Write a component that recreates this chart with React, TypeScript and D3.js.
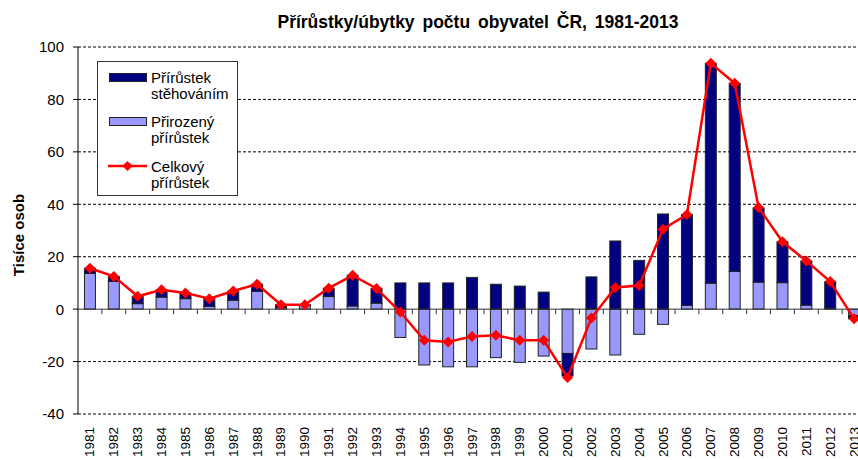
import React from "react";
import * as d3 from "d3";

const years: string[] = [
  "1981","1982","1983","1984","1985","1986","1987","1988","1989","1990",
  "1991","1992","1993","1994","1995","1996","1997","1998","1999","2000",
  "2001","2002","2003","2004","2005","2006","2007","2008","2009","2010",
  "2011","2012","2013",
];

// Přirozený přírůstek (tisíce osob)
const natural: number[] = [
  13.6, 10.6, 2.1, 4.6, 4.0, 1.0, 3.4, 6.8, 0.6, 1.4,
  4.8, 1.2, 2.3, -10.8, -21.3, -22.0, -22.0, -18.5, -20.3, -17.9,
  -16.9, -15.2, -17.5, -9.6, -5.8, 1.4, 9.9, 14.4, 10.3, 10.1,
  1.5, 0.4, -2.4,
];

// Přírůstek stěhováním (tisíce osob)
const migration: number[] = [
  2.0, 1.9, 2.8, 2.8, 2.2, 3.0, 3.5, 2.7, 1.1, 0.3,
  3.2, 11.7, 5.6, 10.0, 10.0, 10.0, 12.1, 9.5, 8.8, 6.5,
  -8.6, 12.3, 26.0, 18.6, 36.3, 34.7, 83.9, 71.8, 28.3, 15.6,
  16.9, 10.1, -1.3,
];

// Celkový přírůstek (tisíce osob)
const total: number[] = [
  15.6, 12.5, 4.9, 7.4, 6.2, 4.0, 6.9, 9.5, 1.7, 1.7,
  8.0, 12.9, 7.9, -1.1, -11.9, -12.5, -10.4, -10.0, -11.9, -11.9,
  -26.1, -3.4, 8.3, 9.0, 30.5, 36.1, 93.8, 86.2, 38.8, 25.7,
  18.4, 10.5, -3.7,
];

const yTicks: number[] = [-40, -20, 0, 20, 40, 60, 80, 100];

const title = "Přírůstky/úbytky počtu obyvatel ČR, 1981-2013";
const yTitle = "Tisíce osob";
const legendLabels: string[][] = [
  ["Přírůstek", "stěhováním"],
  ["Přirozený", "přírůstek"],
  ["Celkový", "přírůstek"],
];

const W = 858;
const H = 460;
const FONT = "Arial, 'Liberation Sans', sans-serif";
const DARK = "#000080";
const LIGHT = "#9999FF";
const RED = "#FF0000";

export default function App() {
  const left = 78;
  const step = 23.88;
  const x = d3
    .scaleBand<string>()
    .domain(years)
    .range([left, left + step * years.length])
    .padding(0);
  const y = d3.scaleLinear().domain([-40, 100]).range([414, 47]);

  const table = years.map((yr, i) => ({
    year: yr,
    natural: natural[i],
    migration: migration[i],
  }));
  const stack = d3
    .stack<any>()
    .keys(["natural", "migration"])
    .offset(d3.stackOffsetDiverging);
  const series = stack(table);
  const colors: Record<string, string> = { natural: LIGHT, migration: DARK };

  const bw = x.bandwidth();
  const barW = bw * 0.46;

  const line = d3
    .line<number>()
    .x((_, i) => (x(years[i]) as number) + bw / 2)
    .y((d) => y(d));

  const diamond = (cx: number, cy: number, r: number) =>
    `M${cx},${cy - r}L${cx + r},${cy}L${cx},${cy + r}L${cx - r},${cy}Z`;

  const plotRight = W;

  return (
    <svg
      width={W}
      height={H}
      style={{ position: "absolute", left: 0, top: 0, background: "#fff" }}
      fontFamily={FONT}
    >
      <rect x={0} y={0} width={W} height={H} fill="#fff" />
      {/* gridlines */}
      {yTicks
        .filter((t) => t !== 0)
        .map((t) => (
          <line
            key={"g" + t}
            x1={left}
            x2={plotRight}
            y1={y(t)}
            y2={y(t)}
            stroke="#000"
            strokeWidth={1}
            strokeDasharray="3,2"
          />
        ))}
      {/* bars */}
      {series.map((s) =>
        s.map((d, i) => {
          const y0 = y(d[0]);
          const y1 = y(d[1]);
          const top = Math.min(y0, y1);
          const h = Math.abs(y1 - y0);
          if (h < 0.01) return null;
          return (
            <rect
              key={s.key + i}
              x={(x(years[i]) as number) + (bw - barW) / 2}
              y={top}
              width={barW}
              height={h}
              fill={colors[s.key]}
              stroke="#222"
              strokeWidth={1}
            />
          );
        })
      )}
      {/* zero axis */}
      <line x1={left} x2={plotRight} y1={y(0)} y2={y(0)} stroke="#333" strokeWidth={1} />
      {years.map((yr) => (
        <line
          key={"t" + yr}
          x1={(x(yr) as number) + bw}
          x2={(x(yr) as number) + bw}
          y1={y(0)}
          y2={y(0) + 5}
          stroke="#333"
          strokeWidth={1}
        />
      ))}
      {/* y axis */}
      <line x1={left} x2={left} y1={y(100)} y2={y(-40)} stroke="#000" strokeWidth={1} />
      {yTicks.map((t) => (
        <g key={"yt" + t}>
          <line x1={left - 5} x2={left} y1={y(t)} y2={y(t)} stroke="#000" />
          <text
            x={64}
            y={y(t)}
            dy="0.36em"
            textAnchor="end"
            fontSize={15}
            fill="#000"
          >
            {t}
          </text>
        </g>
      ))}
      {/* total line */}
      <path d={line(total) || ""} fill="none" stroke={RED} strokeWidth={2.5} />
      {total.map((v, i) => (
        <path
          key={"m" + i}
          d={diamond((x(years[i]) as number) + bw / 2, y(v), 5.5)}
          fill={RED}
        />
      ))}
      {/* x labels */}
      {years.map((yr) => {
        const cx = (x(yr) as number) + bw / 2 + 4.5;
        return (
          <text
            key={"xl" + yr}
            transform={`translate(${cx},427) rotate(-90)`}
            textAnchor="end"
            fontSize={13.5}
            fill="#000"
          >
            {yr}
          </text>
        );
      })}
      {/* title */}
      <text
        x={478}
        y={28}
        textAnchor="middle"
        fontSize={17.5}
        fontWeight="bold"
        wordSpacing={3}
        fill="#000"
      >
        {title}
      </text>
      {/* y title */}
      <text
        transform="translate(24,235) rotate(-90)"
        textAnchor="middle"
        fontSize={15}
        fontWeight="bold"
        fill="#000"
      >
        {yTitle}
      </text>
      {/* legend */}
      <g>
        <rect x={97.5} y={61.5} width={140} height={134} fill="#fff" stroke="#333" strokeWidth={1} />
        <rect x={109.5} y={73.5} width={37} height={8} fill={DARK} stroke="#222" />
        <rect x={109.5} y={117.5} width={37} height={8} fill={LIGHT} stroke="#222" />
        <line x1={108} x2={147} y1={166} y2={166} stroke={RED} strokeWidth={2.5} />
        <path d={diamond(127.5, 166, 5)} fill={RED} />
        {legendLabels.map((lines, k) =>
          lines.map((ln, j) => (
            <text
              key={"lg" + k + j}
              x={151}
              y={[83, 127, 172][k] + j * 16}
              fontSize={15}
              fill="#000"
            >
              {ln}
            </text>
          ))
        )}
      </g>
    </svg>
  );
}
